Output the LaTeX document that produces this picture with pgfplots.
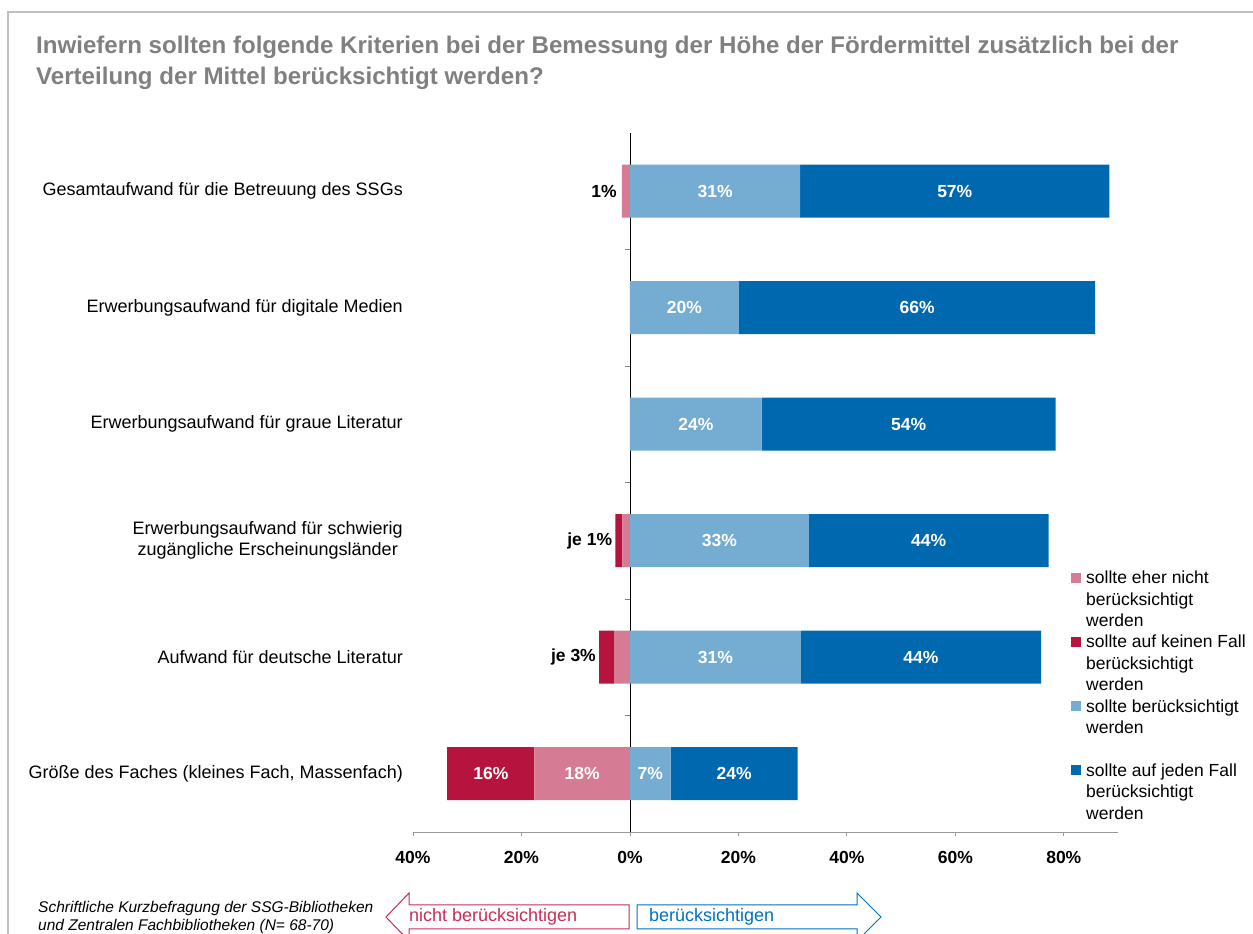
\documentclass[border=0pt]{standalone}
\usepackage{pgfplots}
\pgfplotsset{compat=1.18}
\usepackage{pgfplotstable}
\usepackage{fontspec}
\setmainfont{Liberation Sans}
\definecolor{pinkc}{RGB}{214,123,148}
\definecolor{crim}{RGB}{182,20,62}
\definecolor{lblue}{RGB}{117,172,210}
\definecolor{dblue}{RGB}{0,104,175}
\definecolor{titlegray}{RGB}{128,128,128}
\definecolor{framegray}{RGB}{191,191,191}
\definecolor{arrred}{RGB}{200,45,85}
\definecolor{arrblue}{RGB}{0,112,192}
\newcommand\lab{\fontsize{17.5}{20}\selectfont\bfseries}

% y: 6 = top category, 1 = bottom category
\pgfplotstableread{
y val
6 -1.5
5 0
4 0
3 -1.4
2 -2.9
1 -17.6
}\eherNicht
\pgfplotstableread{
y val
6 0
5 0
4 0
3 -1.3
2 -2.8
1 -16.1
}\keinenFall
\pgfplotstableread{
y val
6 31.4
5 20.1
4 24.3
3 33.0
2 31.5
1 7.5
}\sollte
\pgfplotstableread{
y val
6 57.0
5 65.7
4 54.2
3 44.2
2 44.3
1 23.4
}\jeden
% segment centres and printed labels
\pgfplotstableread{
y mid lbl
1 -8.8 18\%
1 -25.65 16\%
6 15.7 31\%
5 10.05 20\%
4 12.15 24\%
3 16.5 33\%
2 15.75 31\%
1 3.75 7\%
6 59.9 57\%
5 52.95 66\%
4 51.4 54\%
3 55.1 44\%
2 53.65 44\%
1 19.2 24\%
}\labels

\pgfplotsset{common/.style={at={(413pt,102pt)}, anchor=south west,
  scale only axis, width=705pt, height=699pt,
  xmin=-40, xmax=90, ymin=0.5, ymax=6.5}}

\begin{document}
\begin{tikzpicture}[x=1pt,y=1pt]
\path[use as bounding box] (0,0) rectangle (1253,934);
% frame
\draw[framegray, line width=2pt] (8,0) -- (8,922) -- (1260,922);
% title
\node[anchor=base west, inner sep=0, text=titlegray, font=\fontsize{24.1}{31}\selectfont\bfseries] at (36,880) {Inwiefern sollten folgende Kriterien bei der Bemessung der Höhe der Fördermittel zusätzlich bei der};
\node[anchor=base west, inner sep=0, text=titlegray, font=\fontsize{24.1}{31}\selectfont\bfseries] at (36,849) {Verteilung der Mittel berücksichtigt werden?};

\begin{axis}[
  common,
  xbar stacked, stack negative=separate,
  bar width=53pt,
  axis lines*=left,
  x axis line style={draw=gray!80},
  y axis line style={draw=none},
  xtick={-40,-20,0,20,40,60,80},
  xticklabels={40\%,20\%,0\%,20\%,40\%,60\%,80\%},
  xtick style={draw=gray!80, line width=0.8pt},
  tick align=outside, major tick length=4pt,
  xticklabel style={font=\lab, inner sep=0pt, yshift=-15pt},
  ytick={1,2,3,4,5,6},
  yticklabels={{Größe des Faches (kleines Fach, Massenfach)},{Aufwand für deutsche Literatur},{Erwerbungsaufwand für schwierig\\zugängliche Erscheinungsländer\ },{Erwerbungsaufwand für graue Literatur},{Erwerbungsaufwand für digitale Medien},{Gesamtaufwand für die Betreuung des SSGs}},
  ytick style={draw=none},
  yticklabel style={font=\fontsize{18}{21}\selectfont, align=center, inner sep=0pt, xshift=-6pt},
  legend cell align=left,
  legend style={at={(rel axis cs:0.9333,0.3741)}, anchor=north west, draw=none, fill=none,
     inner sep=0pt, row sep=4.4pt, column sep=5pt,
     nodes={font=\fontsize{17.5}{20.5}\selectfont, text height=13pt, text depth=4pt, inner sep=0pt}},
]
\addplot[fill=pinkc, draw=none, legend image code/.code={\fill[pinkc] (0pt,-3.5pt) rectangle (10pt,6.5pt);}]
  table[x=val, y=y] {\eherNicht};
\addlegendentry{sollte eher nicht}
\addlegendimage{empty legend}\addlegendentry{berücksichtigt}
\addlegendimage{empty legend}\addlegendentry{werden}
\addplot[fill=crim, draw=none, legend image code/.code={\fill[crim] (0pt,-3.5pt) rectangle (10pt,6.5pt);}]
  table[x=val, y=y] {\keinenFall};
\addlegendentry{sollte auf keinen Fall}
\addlegendimage{empty legend}\addlegendentry{berücksichtigt}
\addlegendimage{empty legend}\addlegendentry{werden}
\addplot[fill=lblue, draw=none, legend image code/.code={\fill[lblue] (0pt,-3.5pt) rectangle (10pt,6.5pt);}]
  table[x=val, y=y] {\sollte};
\addlegendentry{sollte berücksichtigt}
\addlegendimage{empty legend}\addlegendentry{werden}
\addlegendimage{empty legend}\addlegendentry{\mbox{}}
\addplot[fill=dblue, draw=none, legend image code/.code={\fill[dblue] (0pt,-3.5pt) rectangle (10pt,6.5pt);}]
  table[x=val, y=y] {\jeden};
\addlegendentry{sollte auf jeden Fall}
\addlegendimage{empty legend}\addlegendentry{berücksichtigt}
\addlegendimage{empty legend}\addlegendentry{werden}
% zero line and category separators
\draw[black, line width=0.8pt] (axis cs:0,0.5) -- (axis cs:0,6.5);
\pgfplotsinvokeforeach{0.5,1.5,2.5,3.5,4.5,5.5}{
  \draw[gray, line width=0.8pt] (axis cs:0,#1) -- ([xshift=-5pt]axis cs:0,#1);
}
% small outside labels
\node[anchor=east, font=\lab, inner sep=0pt, xshift=-5pt] at (axis cs:-1.5,6) {1\%};
\node[anchor=east, font=\lab, inner sep=0pt, xshift=-3pt] at (axis cs:-2.7,3) {je 1\%};
\node[anchor=east, font=\lab, inner sep=0pt, xshift=-3pt] at (axis cs:-5.7,2) {je 3\%};
\end{axis}

% value labels inside the bars
\begin{axis}[common, hide axis, clip=false]
\addplot[draw=none, nodes near coords, point meta=explicit symbolic,
  every node near coord/.style={font=\lab, text=white, anchor=center, inner sep=0pt}]
  table[x=mid, y=y, meta=lbl] {\labels};
\end{axis}

% source
\node[anchor=base west, inner sep=0, font=\fontsize{15.5}{18}\selectfont\itshape] at (38,21) {Schriftliche Kurzbefragung der SSG-Bibliotheken};
\node[anchor=base west, inner sep=0, font=\fontsize{15.5}{18}\selectfont\itshape] at (38,3) {und Zentralen Fachbibliotheken (N= 68-70)};
% arrows
\draw[arrred, line width=1pt] (629,29) -- (409,29) -- (409,41) -- (386,17) -- (409,-7) -- (409,5) -- (629,5) -- cycle;
\draw[arrblue, line width=1pt] (637,29) -- (857,29) -- (857,41) -- (881,17) -- (857,-7) -- (857,5) -- (637,5) -- cycle;
\node[anchor=base west, inner sep=0, text=arrred, font=\fontsize{18}{20}\selectfont] at (409,12) {nicht berücksichtigen};
\node[anchor=base west, inner sep=0, text=arrblue, font=\fontsize{18}{20}\selectfont] at (649,12) {berücksichtigen};
\end{tikzpicture}
\end{document}
